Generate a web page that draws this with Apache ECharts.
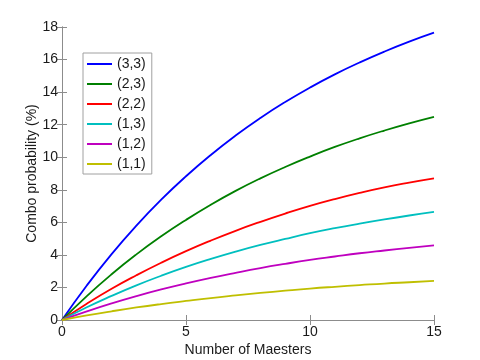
<!DOCTYPE html>
<html>
<head>
<meta charset="utf-8">
<script src="https://cdn.jsdelivr.net/npm/echarts@6/dist/echarts.min.js"></script>
<style>html,body{margin:0;padding:0;background:#fff;}#c{width:480px;height:360px;}</style>
</head>
<body>
<div id="c"></div>
<script>
var xs = [0,1,2,3,4,5,6,7,8,9,10,11,12,13,14,15];
var names = ['(3,3)','(2,3)','(2,2)','(1,3)','(1,2)','(1,1)'];
var colors = ['#0000ff','#008000','#ff0000','#00bfbf','#bf00bf','#bfbf00'];
var s33 = [0,2.12,4.05,5.80,7.39,8.83,10.14,11.33,12.41,13.39,14.28,15.09,15.82,16.49,17.10,17.65];
var s23 = [0,1.47,2.81,4.03,5.14,6.15,7.08,7.93,8.70,9.40,10.04,10.63,11.16,11.64,12.08,12.48];
var s22 = [0,1.0,1.92,2.75,3.52,4.23,4.88,5.48,6.03,6.54,7.01,7.43,7.81,8.15,8.44,8.70];
var s13 = [0,0.78,1.48,2.13,2.72,3.26,3.75,4.20,4.61,4.98,5.33,5.64,5.92,6.18,6.42,6.64];
var s12 = [0,0.53,1.02,1.47,1.88,2.25,2.59,2.90,3.19,3.45,3.69,3.90,4.10,4.27,4.43,4.58];
var s11 = [0,0.28,0.535,0.77,0.98,1.17,1.35,1.51,1.66,1.80,1.93,2.04,2.14,2.24,2.32,2.40];
var all = [s33,s23,s22,s13,s12,s11];

var font = 'Liberation Sans, Arial, Helvetica, sans-serif';
var axisCol = '#8c8c8c';
var txtCol = '#1a1a1a';

function pairs(ys){ return xs.map(function(x,i){ return [x, ys[i]]; }); }

var series = all.map(function(ys,i){
  return {
    name: names[i], type: 'line', data: pairs(ys), smooth: true,
    symbol: 'none', showSymbol: false,
    lineStyle: {color: colors[i], width: 1.8},
    itemStyle: {color: colors[i]},
    animation: false
  };
});

var chart = echarts.init(document.getElementById('c'), null, {renderer: 'canvas'});
chart.setOption({
  backgroundColor: '#fff',
  animation: false,
  grid: {left: 62, right: 46, top: 27, bottom: 40, containLabel: false, outerBoundsMode: 'none'},
  legend: {
    orient: 'vertical', left: 83, top: 53,
    data: names.map(function(n){ return {name: n, icon: 'rect'}; }),
    itemWidth: 25, itemHeight: 2, itemGap: 6,
    padding: [4, 6, 3, 4],
    borderColor: '#a0a0a0', borderWidth: 1, backgroundColor: '#fff',
    textStyle: {fontFamily: font, fontSize: 14, color: txtCol},
    selectedMode: false
  },
  xAxis: [{
    type: 'value', min: 0, max: 15, interval: 5, position: 'bottom',
    name: 'Number of Maesters', nameLocation: 'middle', nameGap: 23, nameMoveOverlap: false,
    nameTextStyle: {fontFamily: font, fontSize: 14, color: txtCol},
    axisLine: {show: true, lineStyle: {color: axisCol, width: 1}},
    axisTick: {show: true, inside: true, length: 5, lineStyle: {color: axisCol}},
    axisLabel: {fontFamily: font, fontSize: 14, color: txtCol, margin: 5},
    splitLine: {show: false}
  }, {
    type: 'value', min: 0, max: 15, interval: 5, position: 'top',
    axisLine: {show: true, lineStyle: {color: axisCol, width: 1}},
    axisTick: {show: true, inside: true, length: 5, lineStyle: {color: axisCol}},
    axisLabel: {show: false}, splitLine: {show: false}
  }],
  yAxis: [{
    type: 'value', min: 0, max: 18, interval: 2, position: 'left',
    name: 'Combo probability (%)', nameLocation: 'middle', nameGap: 23, nameMoveOverlap: false,
    nameTextStyle: {fontFamily: font, fontSize: 14, color: txtCol},
    axisLine: {show: true, lineStyle: {color: axisCol, width: 1}},
    axisTick: {show: true, inside: true, length: 5, lineStyle: {color: axisCol}},
    axisLabel: {fontFamily: font, fontSize: 14, color: txtCol, margin: 4},
    splitLine: {show: false}
  }, {
    type: 'value', min: 0, max: 18, interval: 2, position: 'right',
    axisLine: {show: true, lineStyle: {color: axisCol, width: 1}},
    axisTick: {show: true, inside: true, length: 5, lineStyle: {color: axisCol}},
    axisLabel: {show: false}, splitLine: {show: false}
  }],
  series: series
});
</script>
</body>
</html>
